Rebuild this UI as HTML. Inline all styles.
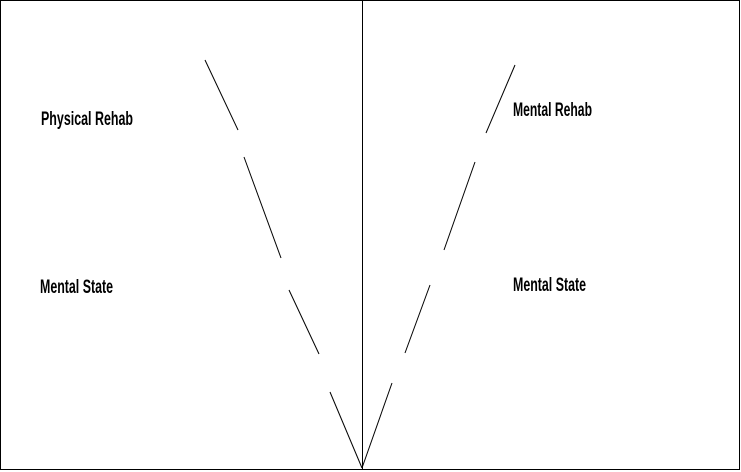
<!DOCTYPE html>
<html><head><meta charset="utf-8"><style>
html,body{margin:0;padding:0;background:#fff;}
svg{display:block;}
text{font-family:"Liberation Sans Narrow","Liberation Sans",sans-serif;font-size:19px;font-weight:bold;fill:#000;}
</style></head><body>
<svg width="741" height="472" viewBox="0 0 741 472" xmlns="http://www.w3.org/2000/svg">
<rect x="0.5" y="0.5" width="739" height="469" fill="#fff" stroke="#000" stroke-width="1"/>
<line x1="362.5" y1="0" x2="362.5" y2="470" stroke="#000" stroke-width="1"/>
<g stroke="#000" stroke-width="1" fill="none">
<line x1="205" y1="60" x2="238" y2="130"/>
<line x1="244" y1="157" x2="281" y2="258"/>
<line x1="289" y1="290" x2="319" y2="354"/>
<line x1="330" y1="392" x2="362" y2="468"/>
<line x1="515" y1="65" x2="486" y2="133"/>
<line x1="475" y1="162" x2="444" y2="250"/>
<line x1="430" y1="285" x2="405" y2="353"/>
<line x1="392" y1="383" x2="362" y2="468"/>
</g>
<text x="41" y="125" textLength="92" lengthAdjust="spacingAndGlyphs">Physical Rehab</text>
<text x="40" y="293" textLength="73" lengthAdjust="spacingAndGlyphs">Mental State</text>
<text x="513" y="116" textLength="79" lengthAdjust="spacingAndGlyphs">Mental Rehab</text>
<text x="513" y="291" textLength="73" lengthAdjust="spacingAndGlyphs">Mental State</text>
</svg>
</body></html>
